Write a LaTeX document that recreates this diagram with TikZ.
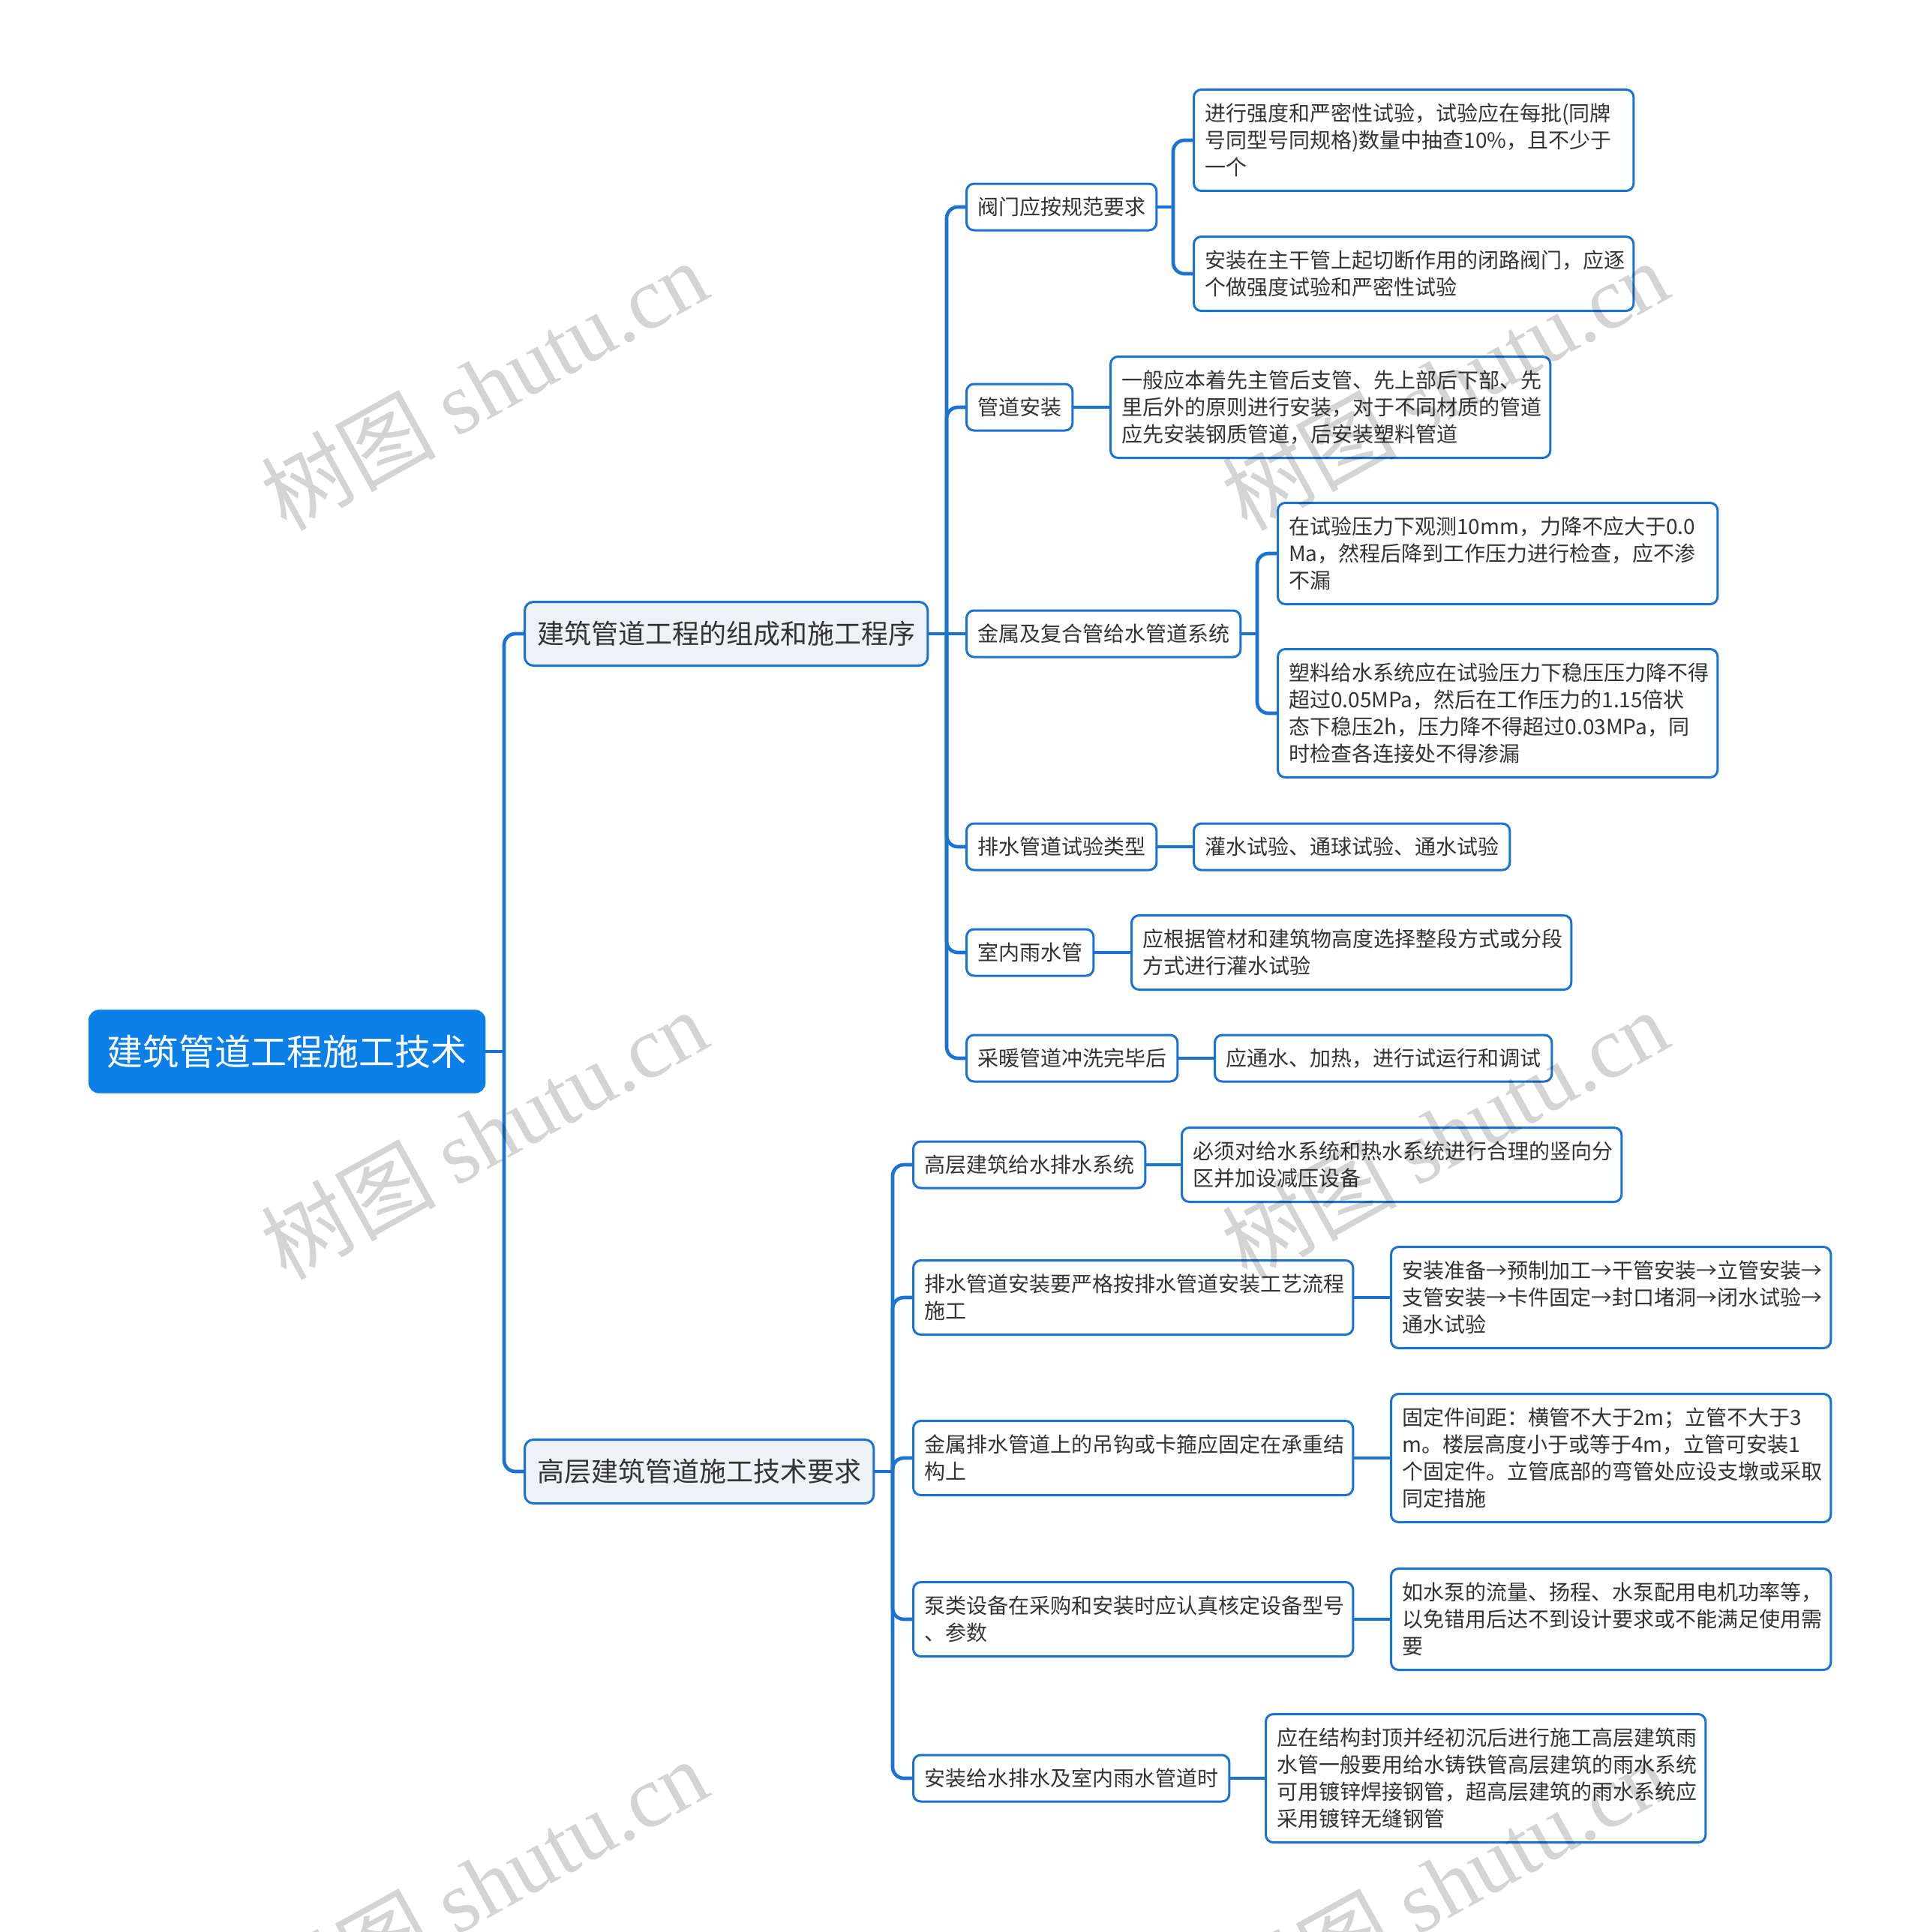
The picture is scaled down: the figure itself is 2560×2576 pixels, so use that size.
\documentclass[tikz,border=0pt]{standalone}
\usepackage{fontspec}
\setmainfont{Noto Sans CJK SC}
\newfontfamily\wmserif{Liberation Serif}
\newfontfamily\wmcjk{Noto Sans CJK SC}
\definecolor{rootblue}{HTML}{0B7FE8}
\definecolor{lineblue}{HTML}{1A73D1}
\definecolor{lvlfill}{HTML}{EEF2F6}
\definecolor{txt}{HTML}{333333}
\tikzset{
  box/.style={draw=lineblue, line width=0.9pt, rounded corners=3pt, fill=white, text=txt,
    font={\fontsize{8.4}{10.8}\selectfont}, inner xsep=4.4pt, inner ysep=0pt, anchor=west, align=left},
  lvlone/.style={draw=lineblue, line width=0.9pt, rounded corners=3.5pt, fill=lvlfill, text=txt,
    font={\fontsize{10.8}{13}\selectfont}, inner xsep=5pt, inner ysep=0pt, anchor=west, minimum height=25.5pt},
  rootbox/.style={draw=rootblue, fill=rootblue, rounded corners=4pt, text=white,
    font={\fontsize{14.4}{17}\selectfont}, inner xsep=7.2pt, inner ysep=0pt, anchor=west, minimum height=33pt},
  conn/.style={draw=lineblue, line width=1.4pt, rounded corners=4.5pt},
  hone/.style={minimum height=18.6pt},
  htwo/.style={minimum height=29.7pt},
  hthree/.style={minimum height=40.5pt},
  hfour/.style={minimum height=51.3pt},
  wide/.style={text width=167.1pt},
  wm/.style={text=black, opacity=0.17, rotate=29, font={\fontsize{35}{35}\selectfont}, inner sep=0pt},
}
\begin{document}
\begin{tikzpicture}[x=0.3pt, y=-0.3pt]
\useasboundingbox[fill=white] (0,0) rectangle (2560,2576);

% root and level 1
\node[rootbox] (R) at (118,1402) {建筑管道工程施工技术};
\node[lvlone] (A) at (698,845) {建筑管道工程的组成和施工程序};
\node[lvlone] (B) at (698,1962) {高层建筑管道施工技术要求};

% level 2 under A
\node[box,hone] (A1) at (1287,276) {阀门应按规范要求};
\node[box,hone] (A2) at (1287,543) {管道安装};
\node[box,hone] (A3) at (1287,845) {金属及复合管给水管道系统};
\node[box,hone] (A4) at (1287,1129) {排水管道试验类型};
\node[box,hone] (A5) at (1287,1270) {室内雨水管};
\node[box,hone] (A6) at (1287,1411) {采暖管道冲洗完毕后};

% leaves under A
\node[box,hthree,wide] (A1a) at (1590,187) {进行强度和严密性试验，试验应在每批(同牌\\号同型号同规格)数量中抽查10\%，且不少于\\一个};
\node[box,htwo,wide] (A1b) at (1590,365) {安装在主干管上起切断作用的闭路阀门，应逐\\个做强度试验和严密性试验};
\node[box,hthree,wide] (A2a) at (1479,543) {一般应本着先主管后支管、先上部后下部、先\\里后外的原则进行安装，对于不同材质的管道\\应先安装钢质管道，后安装塑料管道};
\node[box,hthree,wide] (A3a) at (1702,738) {在试验压力下观测10mm，力降不应大于0.0\\Ma，然程后降到工作压力进行检查，应不渗\\不漏};
\node[box,hfour,wide] (A3b) at (1702,951) {塑料给水系统应在试验压力下稳压压力降不得\\超过0.05MPa，然后在工作压力的1.15倍状\\态下稳压2h，压力降不得超过0.03MPa，同\\时检查各连接处不得渗漏};
\node[box,hone] (A4a) at (1590,1129) {灌水试验、通球试验、通水试验};
\node[box,htwo,wide] (A5a) at (1507,1270) {应根据管材和建筑物高度选择整段方式或分段\\方式进行灌水试验};
\node[box,hone] (A6a) at (1618,1411) {应通水、加热，进行试运行和调试};

% level 2 under B
\node[box,hone] (B1) at (1216,1553) {高层建筑给水排水系统};
\node[box,htwo,wide] (B2) at (1216,1730) {排水管道安装要严格按排水管道安装工艺流程\\施工};
\node[box,htwo,wide] (B3) at (1216,1944) {金属排水管道上的吊钩或卡箍应固定在承重结\\构上};
\node[box,htwo,wide] (B4) at (1216,2159) {泵类设备在采购和安装时应认真核定设备型号\\、参数};
\node[box,hone] (B5) at (1216,2371) {安装给水排水及室内雨水管道时};

% leaves under B
\node[box,htwo,wide] (B1a) at (1574,1553) {必须对给水系统和热水系统进行合理的竖向分\\区并加设减压设备};
\node[box,hthree,wide] (B2a) at (1853,1730) {安装准备→预制加工→干管安装→立管安装→\\支管安装→卡件固定→封口堵洞→闭水试验→\\通水试验};
\node[box,hfour,wide] (B3a) at (1853,1944) {固定件间距：横管不大于2m；立管不大于3\\m。楼层高度小于或等于4m，立管可安装1\\个固定件。立管底部的弯管处应设支墩或采取\\同定措施};
\node[box,hthree,wide] (B4a) at (1853,2159) {如水泵的流量、扬程、水泵配用电机功率等，\\以免错用后达不到设计要求或不能满足使用需\\要};
\node[box,hfour,wide] (B5a) at (1686,2371) {应在结构封顶并经初沉后进行施工高层建筑雨\\水管一般要用给水铸铁管高层建筑的雨水系统\\可用镀锌焊接钢管，超高层建筑的雨水系统应\\采用镀锌无缝钢管};

% junction coordinates
\coordinate (tR) at (672,1402);
\coordinate (tA) at (1262,845);
\coordinate (tB) at (1190,1962);
\coordinate (tA1) at (1564,276);
\coordinate (tA3) at (1676,845);

% connectors root
\draw[conn] (R.east) -- (tR);
\draw[conn] (tR) |- (A.west);
\draw[conn] (tR) |- (B.west);

% connectors A
\draw[conn] (A.east) -- (tA);
\draw[conn] (tA) |- (A1.west);
\draw[conn] (tA) |- (A2.west);
\draw[conn] (tA) -- (A3.west);
\draw[conn] (tA) |- (A4.west);
\draw[conn] (tA) |- (A5.west);
\draw[conn] (tA) |- (A6.west);

\draw[conn] (A1.east) -- (tA1);
\draw[conn] (tA1) |- (A1a.west);
\draw[conn] (tA1) |- (A1b.west);
\draw[conn] (A2.east) -- (A2a.west);
\draw[conn] (A3.east) -- (tA3);
\draw[conn] (tA3) |- (A3a.west);
\draw[conn] (tA3) |- (A3b.west);
\draw[conn] (A4.east) -- (A4a.west);
\draw[conn] (A5.east) -- (A5a.west);
\draw[conn] (A6.east) -- (A6a.west);

% connectors B
\draw[conn] (B.east) -- (tB);
\draw[conn] (tB) |- (B1.west);
\draw[conn] (tB) |- (B2.west);
\draw[conn] (tB) |- (B3.west);
\draw[conn] (tB) |- (B4.west);
\draw[conn] (tB) |- (B5.west);
\draw[conn] (B1.east) -- (B1a.west);
\draw[conn] (B2.east) -- (B2a.west);
\draw[conn] (B3.east) -- (B3a.west);
\draw[conn] (B4.east) -- (B4a.west);
\draw[conn] (B5.east) -- (B5a.west);

% watermarks
\node[wm] (w1) at (645,513) {{\wmcjk 树图} {\wmserif shutu.cn}};
\node[wm] (w2) at (1926,513) {{\wmcjk 树图} {\wmserif shutu.cn}};
\node[wm] (w3) at (645,1512) {{\wmcjk 树图} {\wmserif shutu.cn}};
\node[wm] (w4) at (1926,1512) {{\wmcjk 树图} {\wmserif shutu.cn}};
\node[wm] (w5) at (645,2511) {{\wmcjk 树图} {\wmserif shutu.cn}};
\node[wm] (w6) at (1926,2511) {{\wmcjk 树图} {\wmserif shutu.cn}};
\end{tikzpicture}
\end{document}
